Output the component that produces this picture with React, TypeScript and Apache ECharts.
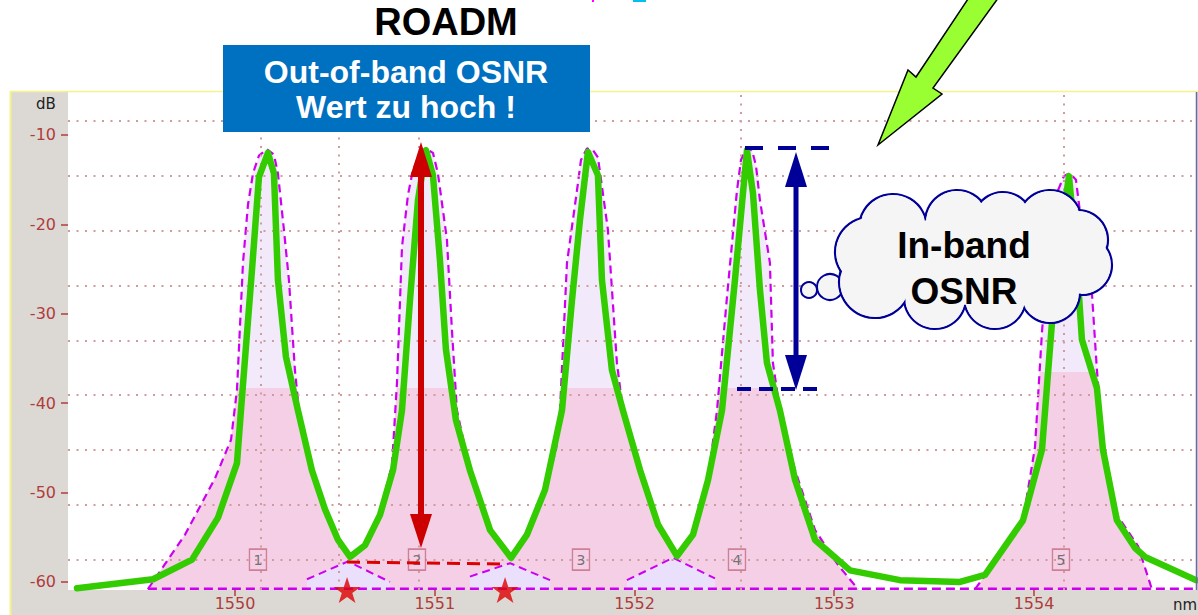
import React, { useEffect, useRef } from "react";
import * as echarts from "echarts";

// ---------- DATA ----------
const xTicks = [1550, 1551, 1552, 1553, 1554];
const yTicks = [-60, -50, -40, -30, -20, -10];
const gridDb = [-8.43, -14.59, -20.74, -26.89, -33.04, -39.08, -45.24, -51.39, -57.54];
const gridNm = [1550.135, 1550.521, 1550.921, 1552.534, 1554.151];

// measured spectrum (green)
const measuredTrace: [number, number][] = [
  [1549.209, -60.7], [1549.59, -59.7], [1549.785, -57.5], [1549.915, -52.8], [1550.01, -46.7], [1550.03, -40.8],
  [1550.085, -25.1], [1550.12, -14.7], [1550.165, -12.0], [1550.195, -14.3], [1550.215, -26.2], [1550.255, -34.8],
  [1550.315, -40.8], [1550.385, -47.5], [1550.451, -51.9], [1550.516, -55.3], [1550.576, -57.2],
  [1550.651, -55.9], [1550.726, -52.5], [1550.791, -47.5], [1550.836, -40.8], [1550.876, -28.5], [1550.916, -17.3],
  [1550.956, -11.7], [1550.991, -14.5], [1551.026, -24.0], [1551.056, -34.0], [1551.106, -41.9], [1551.176, -47.5],
  [1551.277, -54.2], [1551.382, -57.3],
  [1551.462, -54.7], [1551.552, -49.7], [1551.637, -40.8], [1551.687, -28.5], [1551.727, -19.5], [1551.767, -11.9],
  [1551.817, -14.5], [1551.837, -26.2], [1551.887, -36.3], [1551.942, -40.8], [1552.028, -47.5], [1552.118, -53.6],
  [1552.213, -57.1],
  [1552.293, -54.7], [1552.368, -48.6], [1552.438, -40.8], [1552.503, -26.2], [1552.563, -11.7], [1552.593, -16.5],
  [1552.628, -27.3], [1552.663, -35.5], [1552.728, -40.8], [1552.804, -48.6], [1552.904, -55.3], [1553.079, -58.7],
  [1553.329, -59.8], [1553.63, -60.0],
  [1553.755, -59.2], [1553.83, -56.8], [1553.945, -53.1], [1554.04, -45.2], [1554.09, -31.0], [1554.13, -21.7],
  [1554.175, -14.6], [1554.21, -22.9], [1554.24, -32.9], [1554.315, -38.3], [1554.345, -45.2], [1554.415, -53.1],
  [1554.506, -56.2], [1554.556, -57.2], [1554.811, -59.8],
];

// channel envelopes (magenta dashed)
const envelope1: [number, number][] = [
  [1549.564, -60.8], [1549.75, -54.7], [1549.9, -48.4], [1549.98, -44.1], [1550.01, -38.5], [1550.04, -24.3],
  [1550.065, -17.8], [1550.09, -14.3], [1550.12, -12.3], [1550.16, -11.6], [1550.195, -12.2], [1550.215, -14.3],
  [1550.245, -20.6], [1550.27, -26.2], [1550.3, -36.3], [1550.325, -41.9], [1550.385, -47.5], [1550.451, -51.9],
  [1550.516, -55.3], [1550.576, -57.2],
];
const envelope2: [number, number][] = [
  [1550.576, -57.2], [1550.651, -55.9], [1550.726, -52.2], [1550.786, -46.9], [1550.811, -37.7], [1550.836, -22.5],
  [1550.866, -16.7], [1550.891, -13.9], [1550.926, -12.2], [1550.961, -11.6], [1550.991, -12.0], [1551.016, -14.3],
  [1551.061, -21.7], [1551.086, -31.8], [1551.111, -40.8], [1551.176, -47.5], [1551.277, -54.2], [1551.382, -57.3],
];
const envelope3: [number, number][] = [
  [1551.382, -57.3], [1551.462, -54.7], [1551.552, -49.7], [1551.607, -45.2], [1551.627, -40.8], [1551.662, -24.3],
  [1551.712, -16.2], [1551.732, -12.8], [1551.762, -11.5], [1551.792, -11.7], [1551.817, -12.5], [1551.867, -20.6],
  [1551.912, -35.5], [1551.942, -40.8], [1552.028, -47.5], [1552.118, -53.6], [1552.213, -57.1],
];
const envelope4: [number, number][] = [
  [1552.213, -57.1], [1552.293, -54.7], [1552.368, -48.6], [1552.413, -40.8], [1552.463, -28.1], [1552.513, -16.2],
  [1552.533, -12.8], [1552.558, -11.5], [1552.588, -11.7], [1552.608, -13.4], [1552.628, -17.3], [1552.678, -24.3],
  [1552.693, -35.5], [1552.728, -40.8], [1552.804, -47.5], [1552.904, -54.2], [1553.019, -58.1], [1553.119, -60.8],
];
const envelope5: [number, number][] = [
  [1553.705, -60.8], [1553.83, -57.0], [1553.945, -53.1], [1554.005, -44.9], [1554.04, -32.0], [1554.08, -21.2],
  [1554.12, -16.2], [1554.15, -14.6], [1554.18, -14.3], [1554.21, -15.0], [1554.26, -24.0], [1554.29, -27.7],
  [1554.315, -36.3], [1554.345, -44.1], [1554.415, -52.5], [1554.521, -56.0], [1554.59, -60.8],
];
// interpolated noise triangles under the valleys
const valley1: [number, number][] = [[1550.36, -59.7], [1550.566, -57.7], [1550.776, -60.0]];
const valley2: [number, number][] = [[1551.176, -59.4], [1551.377, -57.9], [1551.577, -59.8]];
const valley3: [number, number][] = [[1551.962, -59.8], [1552.193, -57.3], [1552.403, -59.6]];
const baseline: [number, number][] = [[1549.564, -60.75], [1554.811, -60.75]];

const channelNm = [1550.115, 1550.911, 1551.732, 1552.513, 1554.135];
const channelNames = ["1", "2", "3", "4", "5"];
const channelMarkDb = -57.5;
const noiseStars: [number, number][] = [[1550.561, -60.9], [1551.352, -60.9]];

// ---------- STYLE ----------
const X_MIN = 1549.164, X_MAX = 1554.811, Y_MIN = -60.9, Y_MAX = -5.19;
const LAV = "#f2eafb";
const PINK = "#f4cfe6";
const MAGENTA = "#cc00ee";
const FONT = '"Liberation Sans", Arial, sans-serif';

const grad = (f: number) =>
  new echarts.graphic.LinearGradient(0, 92, 0, 590, [
    { offset: 0, color: LAV }, { offset: f, color: LAV },
    { offset: f, color: PINK }, { offset: 1, color: PINK },
  ], true);

const envSeries = (data: [number, number][], f: number) => ({
  type: "line", data, symbol: "none", z: 2, silent: true, clip: true,
  lineStyle: { color: MAGENTA, width: 2.2, type: [8, 5] },
  areaStyle: { color: grad(f), origin: "start", opacity: 1 },
});
const triSeries = (data: [number, number][]) => ({
  type: "line", data, symbol: "none", z: 3, silent: true,
  lineStyle: { color: MAGENTA, width: 2, type: [8, 5] },
  areaStyle: { color: "#ebe0fb", origin: "start", opacity: 1 },
});

const txt = (text: string, x: number, y: number, font: string, fill: string, align = "center", z = 102) => ({
  type: "text", x, y, z, silent: true,
  style: { text, font, fill, align, verticalAlign: "middle", textAlign: align, textVerticalAlign: "middle" },
});

const cloudBumps: [number, number, number][] = [
  [893, 228, 34], [957, 222, 32], [1003, 222, 30], [1050, 222, 32], [1078, 240, 30], [1082, 265, 30],
  [1050, 293, 30], [995, 298, 31], [935, 298, 31], [875, 282, 36], [870, 252, 35],
];

export default function App() {
  const ref = useRef<HTMLDivElement>(null);
  useEffect(() => {
    if (!ref.current) return;
    const chart = echarts.init(ref.current, undefined, { renderer: "svg" });
    const NAVY = "#000099";
    const RED = "#cc0000";
    const graphic: any[] = [
      // instrument frame
      { type: "rect", z: -10, silent: true, shape: { x: 10, y: 91, width: 1188, height: 524 }, style: { fill: "#dcd9d5" } },
      { type: "rect", z: -9, silent: true, shape: { x: 68, y: 92, width: 1128, height: 498 }, style: { fill: "#ffffff" } },
      { type: "line", z: -8, silent: true, shape: { x1: 10, y1: 91.5, x2: 1198, y2: 91.5 }, style: { stroke: "#f4f48a", lineWidth: 1.5 } },
      { type: "line", z: -8, silent: true, shape: { x1: 10.5, y1: 91, x2: 10.5, y2: 615 }, style: { stroke: "#f4f48a", lineWidth: 2 } },
      { type: "line", z: 20, silent: true, shape: { x1: 1196.5, y1: 92, x2: 1196.5, y2: 590 }, style: { stroke: "#6a6aaa", lineWidth: 1.5 } },
      txt("dB", 46, 104, '15px "DejaVu Sans", sans-serif', "#222"),
      txt("nm", 1173, 605, '15px "DejaVu Sans", sans-serif', "#222", "left"),
      // top remnants
      { type: "rect", z: 100, silent: true, shape: { x: 592, y: 0, width: 2, height: 2 }, style: { fill: "#ff00ff" } },
      { type: "rect", z: 100, silent: true, shape: { x: 633, y: 0, width: 13, height: 2 }, style: { fill: "#00c0f0" } },
      // ROADM + blue box
      txt("ROADM", 446, 22, `bold 38px ${FONT}`, "#000"),
      { type: "rect", z: 100, silent: true, shape: { x: 223, y: 45, width: 367, height: 87 }, style: { fill: "#0070c0" } },
      txt("Out-of-band OSNR", 406, 72, `bold 32px ${FONT}`, "#fff"),
      txt("Wert zu hoch !", 406, 107, `bold 32px ${FONT}`, "#fff"),
      // red double arrow
      { type: "rect", z: 100, silent: true, shape: { x: 418, y: 170, width: 6, height: 350 }, style: { fill: RED } },
      { type: "polygon", z: 100, silent: true, shape: { points: [[421, 142], [410, 177], [432, 177]] }, style: { fill: RED } },
      { type: "polygon", z: 100, silent: true, shape: { points: [[421, 548], [410, 514], [432, 514]] }, style: { fill: RED } },
      // red dashed noise level line
      { type: "line", z: 60, silent: true, shape: { x1: 347, y1: 562, x2: 505, y2: 564 }, style: { stroke: "#dd0000", lineWidth: 3, lineDash: [13, 7] } },
      // navy in-band arrow + dashed levels
      { type: "line", z: 100, silent: true, shape: { x1: 745, y1: 148, x2: 832, y2: 148 }, style: { stroke: NAVY, lineWidth: 4, lineDash: [18, 15] } },
      { type: "line", z: 100, silent: true, shape: { x1: 737, y1: 389, x2: 822, y2: 389 }, style: { stroke: NAVY, lineWidth: 4, lineDash: [14, 8] } },
      { type: "rect", z: 100, silent: true, shape: { x: 793.5, y: 180, width: 5, height: 180 }, style: { fill: NAVY } },
      { type: "polygon", z: 100, silent: true, shape: { points: [[796, 152], [785, 187], [807, 187]] }, style: { fill: NAVY } },
      { type: "polygon", z: 100, silent: true, shape: { points: [[796, 390], [785, 355], [807, 355]] }, style: { fill: NAVY } },
      // big green pointer arrow
      { type: "polygon", z: 100, silent: true,
        shape: { points: [[878, 145], [908, 70], [916, 77], [974, -10], [1004, -10], [933, 88], [942, 94]] },
        style: { fill: "#99ff33", stroke: "#000", lineWidth: 1.5, lineJoin: "miter" } },
      // thought bubbles
      { type: "circle", z: 100, silent: true, shape: { cx: 809, cy: 290, r: 8 }, style: { fill: "#f5f5f5", stroke: NAVY, lineWidth: 2 } },
      { type: "circle", z: 100, silent: true, shape: { cx: 830, cy: 287, r: 13 }, style: { fill: "#f5f5f5", stroke: NAVY, lineWidth: 2 } },
    ];
    cloudBumps.forEach(([cx, cy, r]) =>
      graphic.push({ type: "circle", z: 100, silent: true, shape: { cx, cy, r }, style: { fill: "#f5f5f5", stroke: NAVY, lineWidth: 2.2 } }));
    cloudBumps.forEach(([cx, cy, r]) =>
      graphic.push({ type: "circle", z: 101, silent: true, shape: { cx, cy, r: r - 1.3 }, style: { fill: "#f5f5f5" } }));
    graphic.push({ type: "ellipse", z: 101, silent: true, shape: { cx: 975, cy: 260, rx: 105, ry: 45 }, style: { fill: "#f5f5f5" } });
    graphic.push(txt("In-band", 964, 245, `bold 37px ${FONT}`, "#000"));
    graphic.push(txt("OSNR", 964, 291, `bold 37px ${FONT}`, "#000"));

    const axisColor = "#b03c3c";
    chart.setOption({
      animation: false,
      backgroundColor: "transparent",
      textStyle: { fontFamily: FONT },
      grid: { left: 68, right: 2, top: 92, bottom: 25, containLabel: false },
      xAxis: {
        type: "value", min: X_MIN, max: X_MAX,
        axisLine: { show: false }, splitLine: { show: false },
        axisTick: { show: true, customValues: xTicks, length: 6, lineStyle: { color: axisColor, width: 1.5 } },
        axisLabel: { customValues: xTicks, color: axisColor, fontSize: 16, fontFamily: '"DejaVu Sans", sans-serif', margin: 5, formatter: (v: number) => String(v) },
      },
      yAxis: {
        type: "value", min: Y_MIN, max: Y_MAX,
        axisLine: { show: false }, splitLine: { show: false },
        axisTick: { show: true, customValues: yTicks, length: 7, lineStyle: { color: axisColor, width: 1.5 } },
        axisLabel: { customValues: yTicks, color: axisColor, fontSize: 16, fontFamily: '"DejaVu Sans", sans-serif', margin: 12, formatter: (v: number) => String(v) },
      },
      graphic,
      series: [
        envSeries(envelope1, 0.594),
        envSeries(envelope2, 0.594),
        envSeries(envelope3, 0.594),
        envSeries(envelope4, 0.594),
        envSeries(envelope5, 0.562),
        triSeries(valley1),
        triSeries(valley2),
        triSeries(valley3),
        {
          type: "line", data: baseline, symbol: "none", z: 3, silent: true,
          lineStyle: { color: MAGENTA, width: 2.5, type: [9, 5] },
          markLine: {
            z: 4, silent: true, symbol: ["none", "none"], label: { show: false },
            emphasis: { disabled: true },
            lineStyle: { color: "#cf9c9c", width: 2, type: [2, 6.5] },
            data: [...gridDb.map((v) => ({ yAxis: v })), ...gridNm.map((v) => ({ xAxis: v }))],
          },
        },
        {
          type: "line", data: measuredTrace, symbol: "none", z: 10, silent: true,
          lineStyle: { color: "#33cc00", width: 6.5, join: "round", cap: "round" },
        },
        {
          type: "scatter", z: 11, silent: true, clip: false,
          data: channelNm.map((x, i) => [x, channelMarkDb, channelNames[i]]),
          symbol: "rect", symbolSize: [17, 21],
          itemStyle: { color: "rgba(255,255,255,0)", borderColor: "#c46c80", borderWidth: 1.5 },
          label: { show: true, position: "inside", formatter: (p: any) => p.value[2], color: "#555", fontSize: 14, fontFamily: '"DejaVu Sans", sans-serif' },
        },
        {
          type: "scatter", z: 12, silent: true, clip: false, data: noiseStars,
          symbol: "path://M50,0 L61.8,35.3 L99,35.3 L69,57.1 L80.4,92.7 L50,70.9 L19.6,92.7 L31,57.1 L1,35.3 L38.2,35.3 Z",
          symbolSize: [27, 26], itemStyle: { color: "#dd0000" },
        },
      ],
    });
    return () => chart.dispose();
  }, []);
  return <div ref={ref} style={{ position: "fixed", left: 0, top: 0, width: 1198, height: 615, background: "#fff" }} />;
}
